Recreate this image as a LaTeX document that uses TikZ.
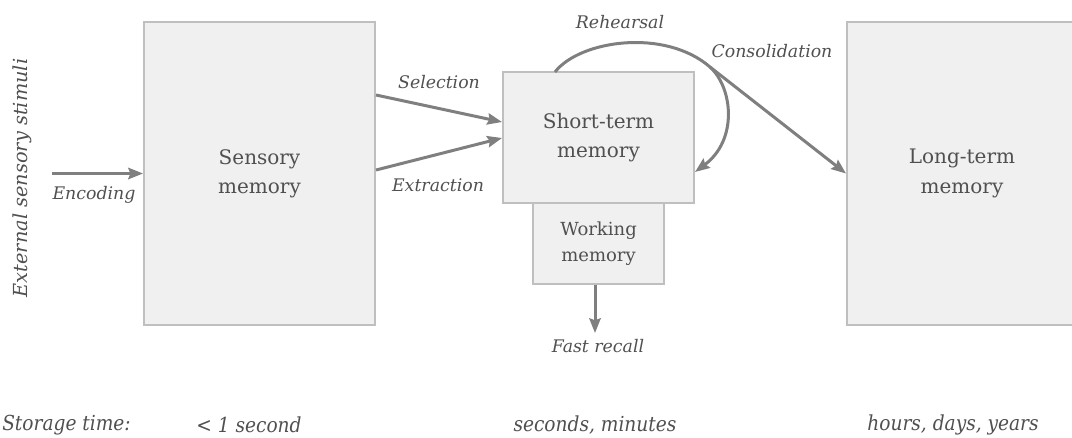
\documentclass[tikz,border=0pt]{standalone}
\usepackage{fontspec}
\setmainfont{DejaVu Serif}
\newfontfamily\condfont{DejaVu Serif Condensed}
\usepackage{xcolor}
\usepackage{tikz}
\usetikzlibrary{arrows.meta, positioning}
\definecolor{boxfill}{HTML}{F0F0F0}
\definecolor{boxline}{HTML}{BFBFBF}
\definecolor{arrowgray}{HTML}{7F7F7F}
\definecolor{txtgray}{HTML}{505050}
\tikzstyle{memblock} = [rectangle, draw=boxline, fill=boxfill,
    line width=1.5pt, text=txtgray, align=center,
    font=\fontsize{15}{22}\selectfont]
\tikzstyle{lbl}     = [text=txtgray, inner sep=0pt,
    font=\fontsize{13}{15}\selectfont\itshape]
\tikzstyle{timelbl} = [text=txtgray, inner sep=0pt,
    font=\condfont\fontsize{15.5}{18}\selectfont\itshape]
\tikzstyle{arrow}   = [-{Stealth[length=11pt, width=8.5pt, inset=1.5pt]},
    line width=2.25pt, draw=arrowgray]

\begin{document}
\begin{tikzpicture}[x=0.75pt, y=-0.75pt]
  \useasboundingbox (0,0) rectangle (1072,437);
  \clip (0,0) rectangle (1072,437);

  % Stores
  \node[memblock, minimum width=173.25pt, minimum height=227.25pt] (sens) at (259.5,173.5) {Sensory\\memory};
  \node[memblock, minimum width=143.25pt, minimum height=98.25pt]  (stm)  at (598.5,137.5) {Short-term\\memory};
  \node[memblock, minimum width=98.25pt, minimum height=60.75pt,
        font=\fontsize{13.5}{19.5}\selectfont, below=-1.5pt of stm] (wm) {Working\\memory};
  \node[memblock, minimum width=172.5pt, minimum height=227.25pt]  (ltm)  at (962,173.5) {Long-term\\memory};

  % Input side
  \node[lbl, rotate=90, font=\fontsize{14.5}{16}\selectfont\itshape] (ext) at (22,178) {External sensory stimuli};
  \coordinate (stim) at (52,173.5);
  \draw[arrow] (stim) -- (sens.west);
  \node[lbl] (enc) at (94,195) {Encoding};

  % Sensory -> short-term
  \draw[arrow] (sens.east |- 0,95) -- (stm.west |- 0,122);
  \draw[arrow] (sens.east |- 0,170) -- (stm.west |- 0,138);
  \node[lbl] (sel) at (439,82) {Selection};
  \node[lbl] (extr) at (438,185) {Extraction};

  % Rehearsal loop and consolidation
  \coordinate (loopstart) at (555,72);
  \coordinate (fork) at (710,67);
  \draw[arrow] (loopstart) .. controls (580,40) and (665,28) .. (fork) -- (ltm.west);
  \draw[arrow] (fork) .. controls (733,88) and (738,140) .. (stm.east |- 0,172);
  \node[lbl] (reh) at (620,22) {Rehearsal};
  \node[lbl] (cons) at (772,51) {Consolidation};

  % Output
  \coordinate (frtip) at (595,333);
  \draw[arrow] (wm.south -| frtip) -- (frtip);
  \node[lbl] (fast) at (598,346) {Fast recall};

  % Storage times
  \node[timelbl, anchor=west] (st) at (2,425) {Storage time:};
  \node[timelbl] (t1) at (249,425) {< 1 second};
  \node[timelbl] (t2) at (595,425) {seconds, minutes};
  \node[timelbl] (t3) at (953,425) {hours, days, years};
\end{tikzpicture}
\end{document}
